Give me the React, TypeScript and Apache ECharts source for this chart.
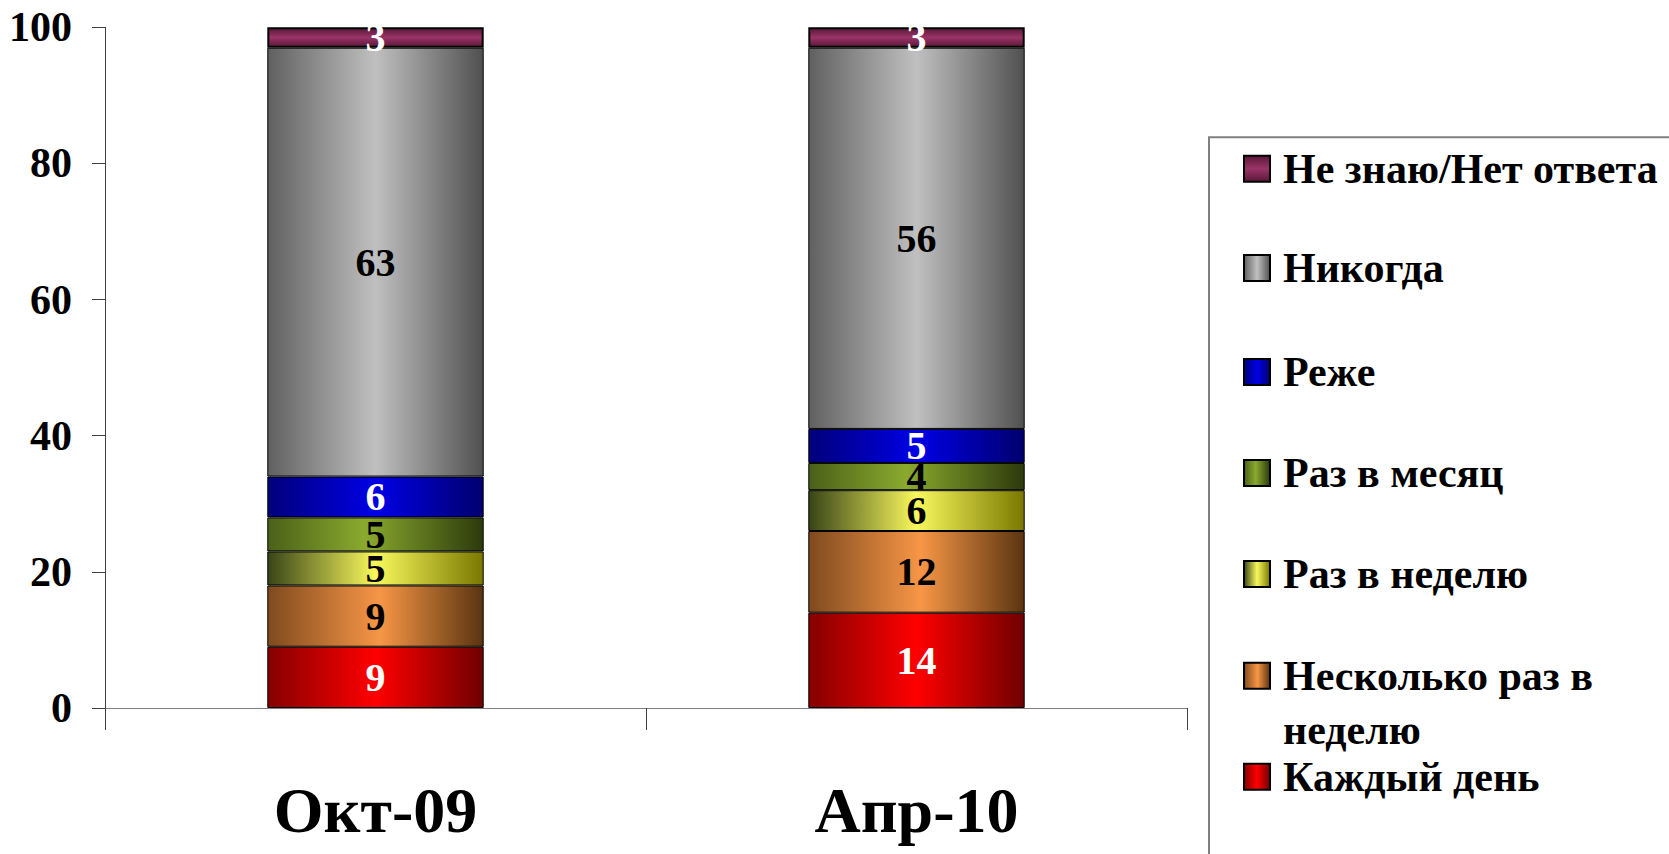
import React, { useEffect, useRef } from "react";
import * as echarts from "echarts";

const CATEGORIES = ["Окт-09", "Апр-10"];
const SERIES_NAMES = [
  "Каждый день",
  "Несколько раз в неделю",
  "Раз в неделю",
  "Раз в месяц",
  "Реже",
  "Никогда",
  "Не знаю/Нет ответа",
];
const DAILY = [9, 14];
const SEVERAL_PER_WEEK = [9, 12];
const WEEKLY = [5, 6];
const MONTHLY = [5, 4];
const RARELY = [6, 5];
const NEVER = [63, 56];
const DONT_KNOW = [3, 3];
const SERIES_VALUES = [DAILY, SEVERAL_PER_WEEK, WEEKLY, MONTHLY, RARELY, NEVER, DONT_KNOW];

const Y_MIN = 0;
const Y_MAX = 100;
const Y_INTERVAL = 20;

const FONT = "'Liberation Serif', 'Times New Roman', serif";

const hGrad = (stops: [number, string][]) =>
  new echarts.graphic.LinearGradient(0, 0, 1, 0, stops.map(([offset, color]) => ({ offset, color })));
const vGrad = (stops: [number, string][]) =>
  new echarts.graphic.LinearGradient(0, 0, 0, 1, stops.map(([offset, color]) => ({ offset, color })));

const FILLS = [
  hGrad([[0, "#850000"], [0.5, "#ff0000"], [1, "#700000"]]),
  hGrad([[0, "#7f4a1e"], [0.52, "#f79646"], [1, "#5a3410"]]),
  hGrad([[0, "#384418"], [0.5, "#f8f85c"], [1, "#7a7800"]]),
  hGrad([[0, "#4a6018"], [0.45, "#8aaa2e"], [1, "#2c3a0c"]]),
  hGrad([[0, "#00007a"], [0.5, "#0000e6"], [1, "#00006e"]]),
  hGrad([[0, "#606060"], [0.5, "#c0c0c0"], [1, "#505050"]]),
  vGrad([[0, "#5a1838"], [0.5, "#9a3468"], [1, "#5a1838"]]),
];
const LABEL_COLORS = ["#ffffff", "#000000", "#000000", "#000000", "#ffffff", "#000000", "#ffffff"];
const BORDER_WIDTHS = [1, 1, 1, 1, 1, 1, 2];

// legend layout: top of each one-item legend (top-to-bottom order)
const LEGEND_ORDER = [6, 5, 4, 3, 2, 1, 0];
const LEGEND_TOPS = [141.7, 241, 345, 446, 547, 594.7, 749.7];

export default function App() {
  const ref = useRef<HTMLDivElement>(null);

  useEffect(() => {
    if (!ref.current) return;
    const chart = echarts.init(ref.current, null, { renderer: "svg" });

    const series = SERIES_NAMES.map((name, i) => ({
      name,
      type: "bar",
      stack: "total",
      barCategoryGap: "60%",
      data: SERIES_VALUES[i],
      itemStyle: {
        color: FILLS[i],
        borderColor: "#000000",
        borderWidth: BORDER_WIDTHS[i],
      },
      label: {
        show: true,
        position: "inside",
        color: LABEL_COLORS[i],
        fontFamily: FONT,
        fontWeight: "bold",
        fontSize: 40,
        textBorderWidth: 0,
      },
    }));

    const legends = LEGEND_ORDER.map((si, k) => {
      const name = SERIES_NAMES[si];
      const twoLine = name === "Несколько раз в неделю";
      return {
        data: [{ name, icon: "rect" }],
        orient: "vertical",
        left: 1243,
        top: LEGEND_TOPS[k],
        padding: 0,
        itemWidth: 26,
        itemHeight: 26,
        selectedMode: false,
        formatter: twoLine ? () => "\nНесколько раз в\nнеделю" : undefined,
        textStyle: {
          fontFamily: FONT,
          fontWeight: "bold",
          fontSize: 42,
          color: "#000000",
          lineHeight: 54,
          padding: [0, 0, 0, 8],
        },
      };
    });

    chart.setOption({
      animation: false,
      backgroundColor: "#ffffff",
      grid: { left: 105, right: 482, top: 27.3, bottom: 146, containLabel: false },
      legend: legends,
      graphic: [
        {
          type: "rect",
          shape: { x: 1209, y: 137.3, width: 600, height: 800 },
          style: { fill: "none", stroke: "#808080", lineWidth: 2 },
          silent: true,
        },
      ],
      xAxis: {
        type: "category",
        data: CATEGORIES,
        axisLine: { show: true, lineStyle: { color: "#808080", width: 1 } },
        axisTick: { show: true, length: 22, lineStyle: { color: "#404040" } },
        axisLabel: {
          margin: 70,
          fontFamily: FONT,
          fontWeight: "bold",
          fontSize: 64,
          lineHeight: 64,
          color: "#000000",
        },
      },
      yAxis: {
        type: "value",
        min: Y_MIN,
        max: Y_MAX,
        interval: Y_INTERVAL,
        splitLine: { show: false },
        axisLine: { show: true, lineStyle: { color: "#404040", width: 1 } },
        axisTick: { show: true, length: 13, lineStyle: { color: "#404040" } },
        axisLabel: {
          margin: 33,
          fontFamily: FONT,
          fontWeight: "bold",
          fontSize: 42,
          color: "#000000",
        },
      },
      series,
    });

    return () => chart.dispose();
  }, []);

  return (
    <div
      ref={ref}
      style={{ position: "fixed", left: 0, top: 0, width: 1669, height: 854, background: "#fff" }}
    />
  );
}
